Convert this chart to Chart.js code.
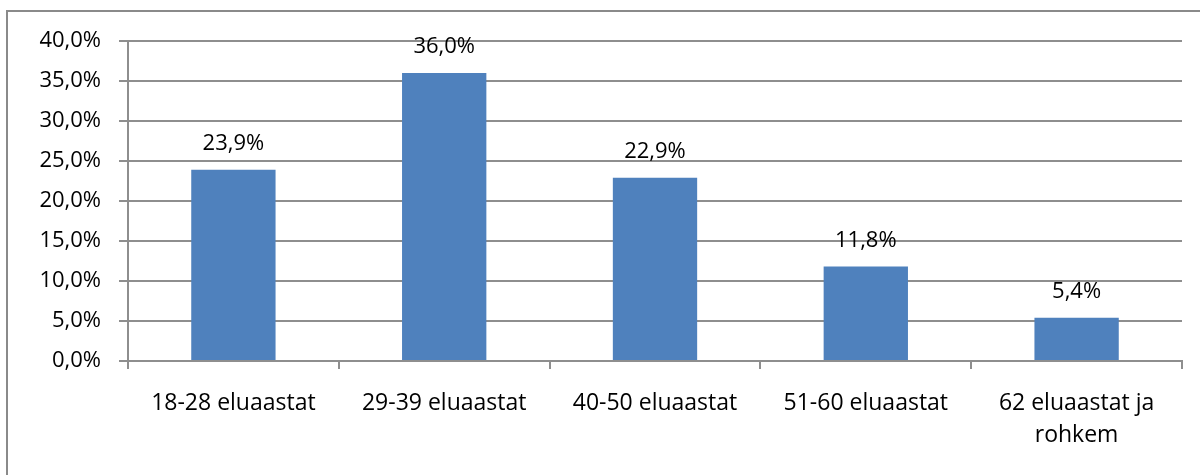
<!DOCTYPE html>
<html>
<head>
<meta charset="utf-8">
<script src="https://cdn.jsdelivr.net/npm/chart.js@4/dist/chart.umd.min.js"></script>
<style>
html,body{margin:0;padding:0;background:#fff;}
#wrap{width:1200px;height:475px;position:relative;}
</style>
</head>
<body>
<div id="wrap"><canvas id="c" width="1200" height="475"></canvas></div>
<script>
const categories = ["18-28 eluaastat", "29-39 eluaastat", "40-50 eluaastat", "51-60 eluaastat", ["62 eluaastat ja", "rohkem"]];
const values = [23.9, 36.0, 22.9, 11.8, 5.4];
const yMin = 0, yMax = 40, yStep = 5;

const FONT = "'Open Sans', sans-serif";
const GRID = '#8e8e8e';
const fmt = v => v.toFixed(1).replace('.', ',') + '%';

const frame = {
  id: 'frame',
  afterDraw(chart) {
    const ctx = chart.ctx;
    ctx.save();
    ctx.strokeStyle = '#8a8a8a';
    ctx.lineWidth = 2;
    ctx.strokeRect(7, 11, 1210, 500);
    ctx.restore();
  }
};
const labels = {
  id: 'barLabels',
  afterDatasetsDraw(chart) {
    const ctx = chart.ctx;
    const meta = chart.getDatasetMeta(0);
    ctx.save();
    ctx.font = '22px ' + FONT;
    ctx.fillStyle = '#000';
    ctx.textAlign = 'center';
    ctx.textBaseline = 'middle';
    meta.data.forEach((bar, i) => {
      ctx.fillText(fmt(values[i]), bar.x, bar.y - 26);
    });
    ctx.restore();
  }
};

new Chart(document.getElementById('c'), {
  type: 'bar',
  data: {
    labels: categories,
    datasets: [{
      data: values,
      backgroundColor: '#4F81BD',
      borderWidth: 0,
      categoryPercentage: 0.8,
      barPercentage: 0.5
    }]
  },
  options: {
    responsive: false,
    animation: false,
    devicePixelRatio: 1,
    layout: { padding: { top: 41, right: 18, left: 0, bottom: 0 } },
    plugins: { legend: { display: false }, tooltip: { enabled: false } },
    scales: {
      x: {
        afterFit(s) { s.height = 114; },
        grid: { display: true, offset: true, drawOnChartArea: false, drawTicks: true, tickLength: 8, color: GRID, lineWidth: 2 },
        border: { display: true, color: GRID, width: 2 },
        ticks: { color: '#000', font: { family: FONT, size: 23, lineHeight: 1.4 }, padding: 18, maxRotation: 0, autoSkip: false }
      },
      y: {
        min: yMin, max: yMax,
        afterFit(s) { s.width = 128; },
        grid: { color: GRID, lineWidth: 2, drawTicks: true, tickLength: 9 },
        border: { display: true, color: GRID, width: 2 },
        ticks: { stepSize: yStep, color: '#000', font: { family: FONT, size: 22 }, padding: 18, callback: v => fmt(v) }
      }
    }
  },
  plugins: [frame, labels]
});
</script>
</body>
</html>
